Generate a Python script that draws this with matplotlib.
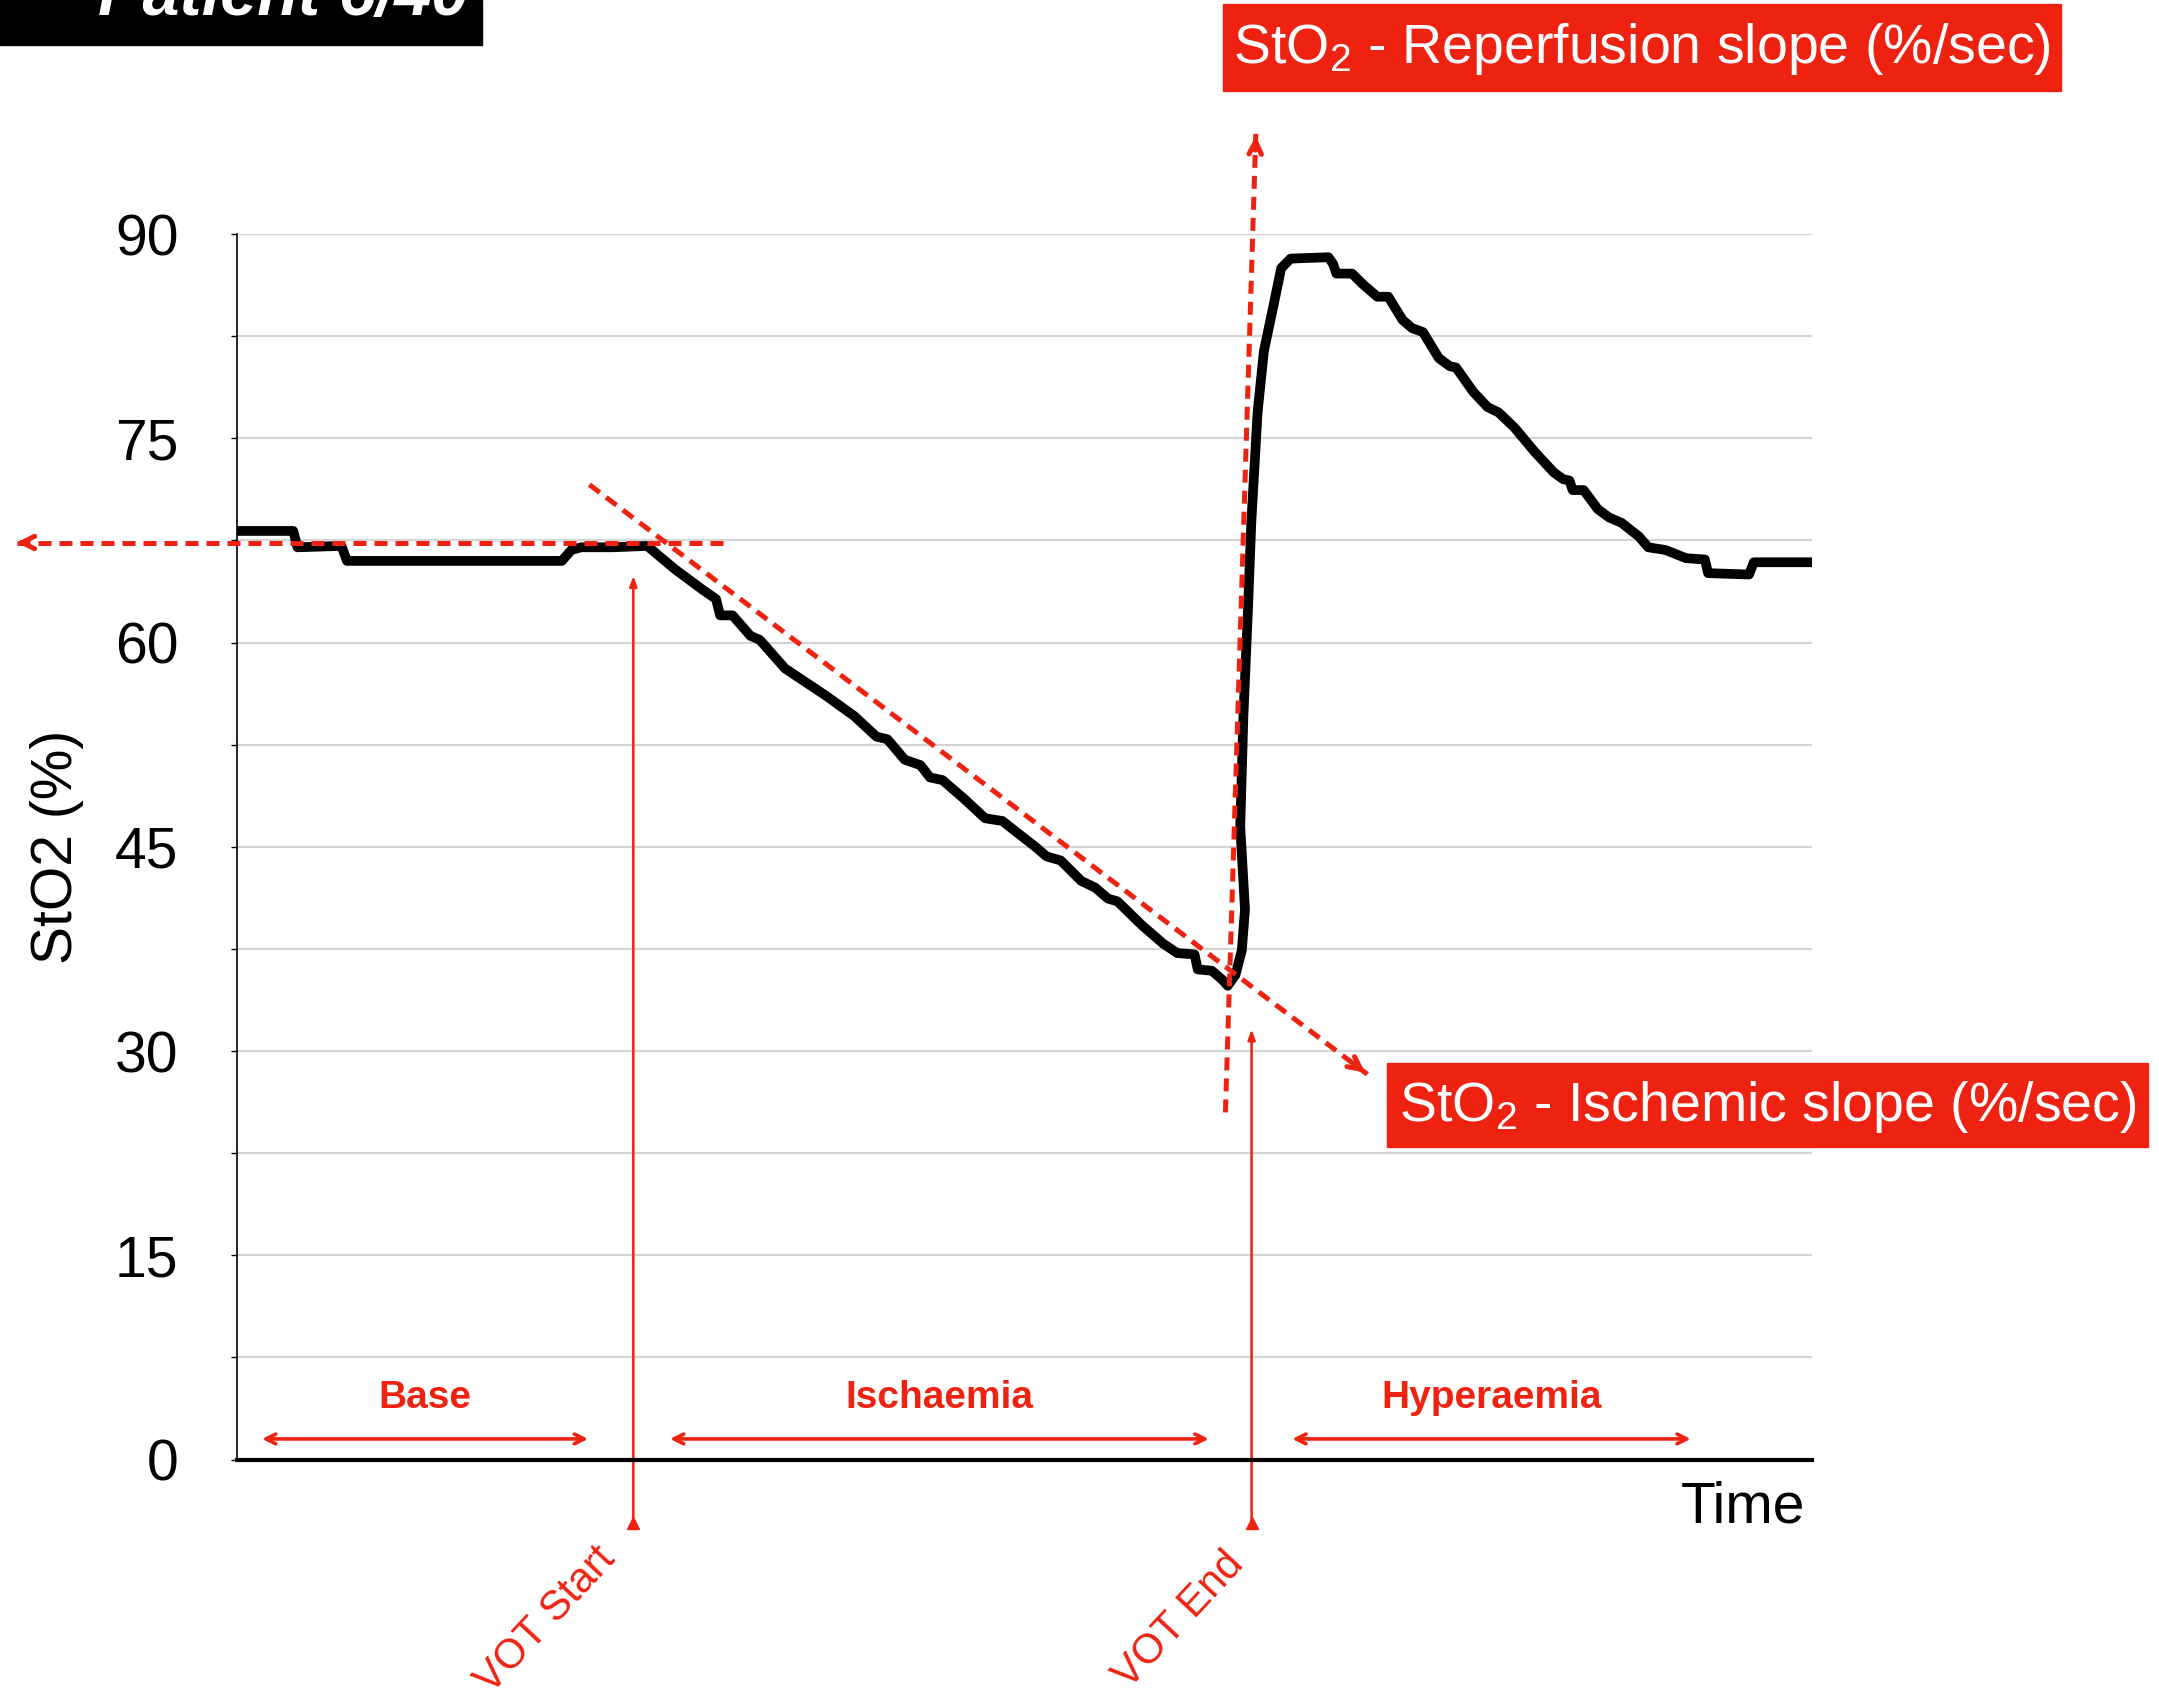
import numpy as np
import matplotlib.pyplot as plt
from matplotlib.patches import Rectangle

plt.rcParams['font.family'] = ['Liberation Sans', 'DejaVu Sans']
plt.rcParams['mathtext.fontset'] = 'custom'
plt.rcParams['mathtext.rm'] = 'Liberation Sans'
plt.rcParams['mathtext.it'] = 'Liberation Sans:italic'

RED = '#EE2211'

# StO2 trace (time in arbitrary units 0-100, StO2 in %)
t_trace = [0, 3.58, 3.85, 6.64, 6.99, 20.63, 21.24, 21.85, 23.86, 26.05,
           27.8, 29.55, 30.42, 30.68, 31.47, 32.6, 33.2, 34.8, 36.1, 37.4,
           39.2, 40.6, 41.3, 42.4, 43.4, 44.0, 44.8, 46.2, 47.5, 48.6,
           49.7, 50.7, 51.4, 52.3, 53.6, 54.5, 55.3, 55.9, 57.5, 58.8,
           59.7, 60.8, 61.0, 61.9, 62.6, 62.9, 63.4, 63.8, 64.0, 63.7,
           63.9, 64.2, 64.4, 64.8, 65.2, 65.8, 66.3, 66.9, 69.3, 69.6,
           69.8, 70.8, 71.5, 72.4, 73.1, 74.0, 74.6, 75.3, 76.3, 77.0,
           77.4, 78.5, 79.4, 80.1, 81.1, 82.4, 83.6, 84.2, 84.6, 84.8,
           85.5, 86.4, 87.1, 87.9, 89.0, 89.6, 90.7, 92.0, 93.2, 93.4,
           96.0, 96.3, 100]
sto2 = [68.2, 68.2, 67.0, 67.1, 66.0, 66.0, 66.8, 67.0, 67.0, 67.1,
        65.4, 63.9, 63.2, 62.0, 62.0, 60.5, 60.2, 58.1, 57.1, 56.1,
        54.6, 53.1, 52.9, 51.4, 51.0, 50.1, 49.9, 48.5, 47.1, 46.9,
        45.9, 45.0, 44.3, 44.0, 42.5, 42.0, 41.2, 41.0, 39.2, 37.9,
        37.2, 37.1, 36.0, 35.9, 35.2, 34.8, 35.6, 37.4, 40.4, 46.5,
        54.6, 62.7, 68.8, 76.9, 81.4, 84.7, 87.5, 88.2, 88.3, 87.8,
        87.1, 87.1, 86.3, 85.4, 85.4, 83.7, 83.1, 82.8, 80.9, 80.3,
        80.2, 78.4, 77.3, 76.9, 75.8, 74.0, 72.5, 72.0, 71.9, 71.2,
        71.2, 69.8, 69.2, 68.8, 67.8, 67.0, 66.8, 66.2, 66.1, 65.1,
        65.0, 65.9, 65.9]

y_major = [0, 15, 30, 45, 60, 75, 90]
y_minor = [7.5, 22.5, 37.5, 52.5, 67.5, 82.5]

phases = ['Base', 'Ischaemia', 'Hyperaemia']
phase_start = [1.6, 27.5, 67.0]
phase_end = [22.3, 61.7, 92.3]

vot_labels = ['VOT Start', 'VOT End']
vot_time = [25.17, 64.42]
vot_top = [64.9, 31.6]
vot_text_t = [19.6, 59.8]

fig = plt.figure(figsize=(21.59, 17), dpi=100)
ax = fig.add_axes([0.1097, 0.1414, 0.7296, 0.7209])

ax.set_xlim(0, 100)
ax.set_ylim(0, 90)
for v in y_major[1:] + y_minor:
    ax.axhline(v, color='#D4D4D4', lw=1.6, zorder=0)

ax.plot(t_trace, sto2, color='black', lw=7, solid_joinstyle='round',
        solid_capstyle='butt', zorder=3)

ax.set_yticks(y_major)
ax.set_yticks(y_minor, minor=True)
ax.set_yticklabels([str(v) for v in y_major], fontsize=41)
ax.tick_params(axis='y', which='both', length=4, width=1, pad=38)
ax.set_xticks([])
for s in ['top', 'right']:
    ax.spines[s].set_visible(False)
ax.spines['left'].set_linewidth(1.2)
ax.spines['bottom'].set_linewidth(3)
ax.set_ylabel('StO2 (%)', fontsize=41, labelpad=22)
ax.text(0.9956, -0.039, 'Time', transform=ax.transAxes, ha='right',
        va='center', fontsize=41)

dash = (0, (2.6, 1.6))


def dashed_arrow(x0, y0, x1, y1):
    ax.plot([x0, x1], [y0, y1], color=RED, lw=3.6, linestyle=dash,
            clip_on=False, zorder=4)
    ax.annotate('', xy=(x1, y1),
                xytext=(x1 - (x1 - x0) * 0.02, y1 - (y1 - y0) * 0.02),
                arrowprops=dict(arrowstyle='->,head_length=0.9,head_width=0.45',
                                color=RED, lw=3.6),
                annotation_clip=False, zorder=4)


# baseline, ischemic and reperfusion slopes
dashed_arrow(30.86, 67.35, -14.16, 67.35)
dashed_arrow(22.38, 71.6, 71.77, 28.3)
dashed_arrow(62.76, 25.5, 64.69, 97.4)

# VOT markers
for lab, tx, top, lx in zip(vot_labels, vot_time, vot_top, vot_text_t):
    ax.annotate('', xy=(tx, top), xytext=(tx, -4.65),
                arrowprops=dict(arrowstyle='-|>,head_length=0.6,head_width=0.22',
                                color=RED, lw=1.8, shrinkA=0, shrinkB=0),
                annotation_clip=False, zorder=2)
    ax.plot([tx], [-4.65], marker='^', color=RED, ms=8, clip_on=False)
    ax.text(lx, -11.8, lab, color=RED, fontsize=30, rotation=47,
            ha='center', va='center', rotation_mode='anchor')

# phase arrows
for lab, a, b in zip(phases, phase_start, phase_end):
    ax.annotate('', xy=(b, 1.52), xytext=(a, 1.52),
                arrowprops=dict(arrowstyle='<->,head_length=0.7,head_width=0.35',
                                color=RED, lw=2.6, shrinkA=0, shrinkB=0))
    ax.text((a + b) / 2, 4.55, lab, color=RED, fontsize=28,
            fontweight='bold', ha='center', va='center')

# labelled boxes
fig.patches.append(Rectangle((0.5663, 0.9465), 0.3884, 0.0511,
                             transform=fig.transFigure, color=RED, zorder=5))
fig.text(0.7605, 0.971, 'StO$_2$ - Reperfusion slope (%/sec)', color='white',
         fontsize=40, ha='center', va='center', zorder=6)
fig.patches.append(Rectangle((0.6422, 0.3253), 0.3527, 0.0494,
                             transform=fig.transFigure, color=RED, zorder=5))
fig.text(0.8186, 0.349, 'StO$_2$ - Ischemic slope (%/sec)', color='white',
         fontsize=40, ha='center', va='center', zorder=6)
fig.patches.append(Rectangle((0, 0.9733), 0.2232, 0.0267,
                             transform=fig.transFigure, color='black', zorder=5))
fig.text(0.2168, 0.991, 'Patient 6/40', color='white', fontsize=48,
         fontweight='bold', fontstyle='italic', ha='right', va='baseline',
         zorder=6)

fig.savefig('out.png', dpi=100)
